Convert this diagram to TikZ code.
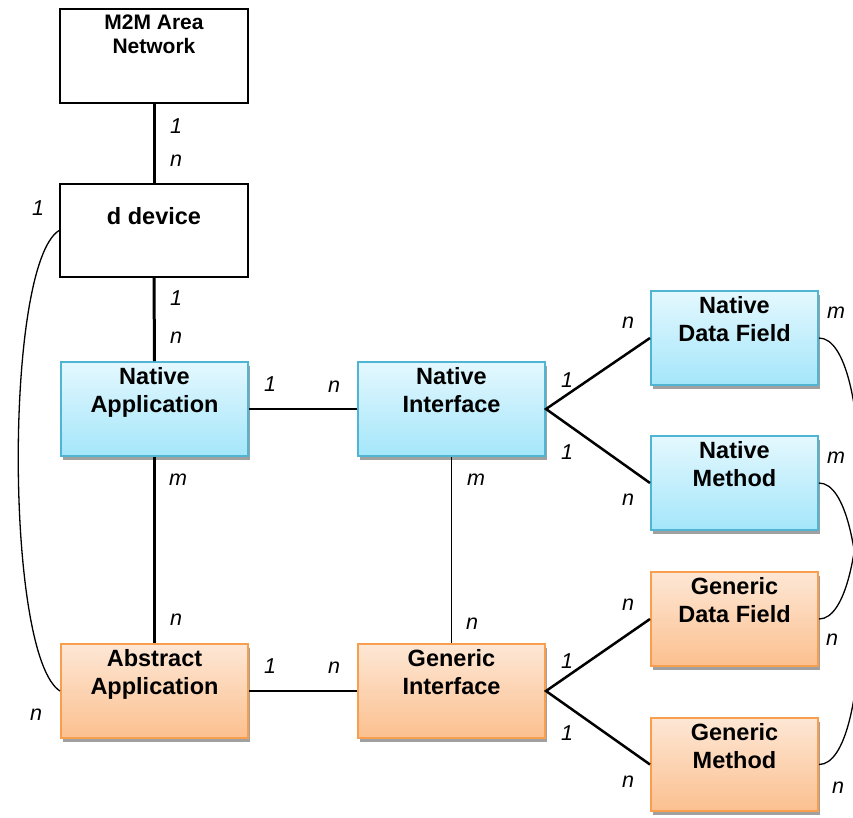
\documentclass[tikz,border=0pt]{standalone}
\usepackage{fontspec}
\setmainfont{Liberation Sans}
\definecolor{bluetop}{HTML}{E4F8FE}
\definecolor{bluebot}{HTML}{A4E6FA}
\definecolor{blueline}{HTML}{4FB5D3}
\definecolor{orgtop}{HTML}{FDE7D5}
\definecolor{orgbot}{HTML}{FCC08F}
\definecolor{orgline}{HTML}{F79F4E}
\definecolor{shadowgray}{HTML}{A0A0A0}
\begin{document}
\begin{tikzpicture}[x=1pt,y=-1pt,
  box/.style={rectangle, minimum width=187pt, minimum height=94pt, inner sep=0pt, line width=2pt},
  plainbox/.style={box, draw=black, fill=white},
  bluebox/.style={box, draw=blueline, top color=bluetop, bottom color=bluebot,
    preaction={fill=shadowgray, transform canvas={xshift=1.5pt,yshift=-4pt}}},
  orgbox/.style={box, draw=orgline, top color=orgtop, bottom color=orgbot,
    preaction={fill=shadowgray, transform canvas={xshift=1.5pt,yshift=-4pt}}},
  narrow/.style={minimum width=167pt},
  boxtext/.style={anchor=north, inner sep=0pt, align=center, font=\fontsize{23.5}{28}\selectfont\bfseries},
  card/.style={inner sep=0pt, font=\fontsize{21.5}{24}\selectfont\itshape},
  thick line/.style={line width=3pt},
  mid line/.style={line width=2.5pt},
  thin line/.style={line width=1.5pt},
  curve/.style={line width=1.3pt}
]
\useasboundingbox (0,0) rectangle (853,817);
\begin{scope}
\clip (0,0) rectangle (853,817);
% boxes
\node[plainbox, minimum width=188pt] (m2m) at (154,56) {};
\node[plainbox, minimum width=188pt, minimum height=93pt] (dd) at (154,230.5) {};
\node[bluebox] (na) at (154.5,409) {};
\node[bluebox] (ni) at (451.5,409) {};
\node[bluebox, narrow] (ndf) at (734.5,338) {};
\node[bluebox, narrow] (nm) at (734.5,483) {};
\node[orgbox] (aa) at (154.5,691) {};
\node[orgbox] (gi) at (451.5,691) {};
\node[orgbox, narrow] (gdf) at (734.5,619) {};
\node[orgbox, narrow, minimum height=93pt] (gm) at (734.5,764.5) {};
% texts
\node[boxtext, font=\fontsize{21}{24}\selectfont\bfseries, yshift=-7pt] (m2mt) at (m2m.north) {M2M Area\\Network};
\node[boxtext, yshift=-24pt] (ddt) at (dd.north) {d device};
\node[boxtext, yshift=-6pt] (nat) at (na.north) {Native\\Application};
\node[boxtext, yshift=-6pt] (nit) at (ni.north) {Native\\Interface};
\node[boxtext, yshift=-6pt] (ndft) at (ndf.north) {Native\\Data Field};
\node[boxtext, yshift=-6pt] (nmt) at (nm.north) {Native\\Method};
\node[boxtext, yshift=-6pt] (aat) at (aa.north) {Abstract\\Application};
\node[boxtext, yshift=-6pt] (git) at (gi.north) {Generic\\Interface};
\node[boxtext, yshift=-6pt] (gdft) at (gdf.north) {Generic\\Data Field};
\node[boxtext, yshift=-6pt] (gmt) at (gm.north) {Generic\\Method};
% connectors
\draw[thick line] (m2m.south) -- (dd.north);
\draw[thick line] (dd.south) -- (na.north);
\draw[thick line] (na.south) -- (aa.north);
\draw[thin line] (ni.south) -- (gi.north);
\draw[mid line] (na.east) -- (ni.west);
\draw[mid line] (aa.east) -- (gi.west);
\draw[mid line] (ndf.west) -- (ni.east) -- (nm.west);
\draw[mid line] (gdf.west) -- (gi.east) -- (gm.west);
\draw[curve] (dd.west) .. controls +(-55,35) and +(-55,-35) .. (aa.west);
\draw[curve] (ndf.east) .. controls +(54,0) and +(54,0) .. (gdf.east);
\draw[curve] (nm.east) .. controls +(54,0) and +(54,0) .. (gm.east);
% cardinalities
\node[card] (c1) at (176,126) {1};
\node[card] (c2) at (176,161) {n};
\node[card] (c3) at (176,298) {1};
\node[card] (c4) at (176,338) {n};
\node[card] (c5) at (270,384) {1};
\node[card] (c6) at (334,387) {n};
\node[card] (c7) at (178,480) {m};
\node[card] (c8) at (176,620) {n};
\node[card] (c9) at (476,480) {m};
\node[card] (c10) at (472,624) {n};
\node[card] (c11) at (270,666) {1};
\node[card] (c12) at (334,668) {n};
\node[card] (c13) at (567,380) {1};
\node[card] (c14) at (567,452) {1};
\node[card] (c15) at (628,323) {n};
\node[card] (c16) at (628,500) {n};
\node[card] (c17) at (567,661) {1};
\node[card] (c18) at (567,733) {1};
\node[card] (c19) at (628,605) {n};
\node[card] (c20) at (628,782) {n};
\node[card] (c21) at (38,208) {1};
\node[card] (c22) at (36,715) {n};
\node[card] (c23) at (836,313) {m};
\node[card] (c24) at (836,458) {m};
\node[card] (c25) at (832,640) {n};
\node[card] (c26) at (838,788) {n};
\end{scope}
\end{tikzpicture}
\end{document}
